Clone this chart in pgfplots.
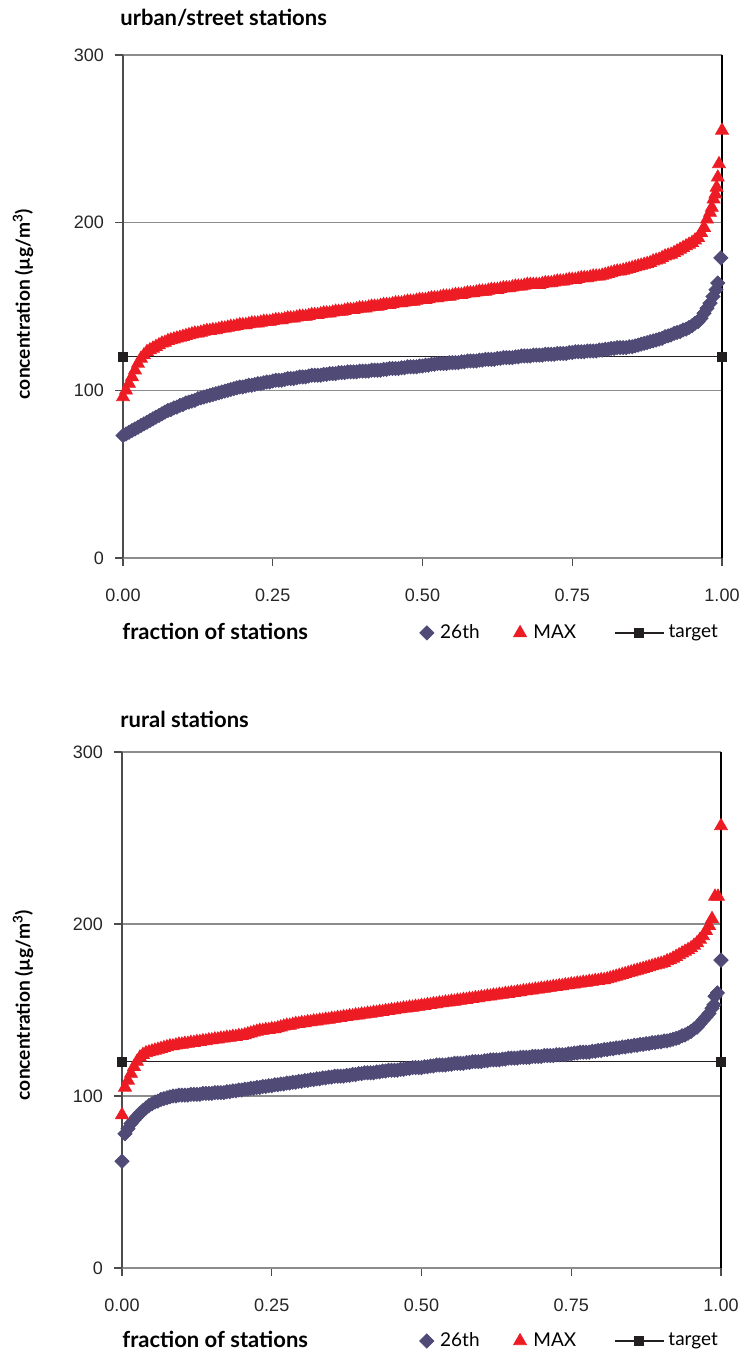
\documentclass[border=0pt]{standalone}
\usepackage{fontspec}
\setmainfont{Lato}
\newfontfamily\tickfont{Liberation Sans}
\usepackage{pgfplots}
\pgfplotsset{compat=1.18}
\definecolor{c26}{RGB}{79,74,118}
\definecolor{cmax}{RGB}{237,28,36}
\definecolor{ctar}{RGB}{35,31,32}
\definecolor{cgrid}{RGB}{140,140,140}
\pgfplotsset{
 panel/.style={
  scale only axis, width=299.5pt,
  xmin=0, xmax=1, ymin=0, ymax=300, clip=false,
  axis x line*=bottom, axis y line*=left,
  xtick={0,0.25,0.5,0.75,1}, xticklabels={0.00,0.25,0.50,0.75,1.00},
  ytick={0,100,200,300},
  tick align=outside, major tick length=4pt,
  ymajorgrids, major grid style={cgrid, line width=0.6pt},
  x axis line style={cgrid, line width=0.7pt},
  y axis line style={black!70, line width=0.6pt},
  tick style={black!70, line width=0.6pt},
  tick label style={font=\fontsize{9}{10}\tickfont, text=black!85},
  xticklabel style={yshift=-8pt},
  yticklabel style={xshift=-2pt},
  /pgf/number format/assume math mode=true,
  extra x ticks={1}, extra x tick labels={},
  extra x tick style={xmajorgrids=true, major grid style={black, line width=0.6pt}},
  legend columns=-1,
  legend style={draw=none, fill=none, anchor=west, inner sep=0pt,
    font=\fontsize{9.5}{11}\selectfont,
    /tikz/every even column/.append style={column sep=14.5pt}},
 },
 s26/.style={only marks, mark=square*, mark size=2.5pt, c26,
   mark options={rotate=45, draw=c26, fill=c26},
   legend image code/.code={\path (0pt,0pt) (8pt,0pt); \draw[##1] plot coordinates {(3.5pt,0pt)};}},
 smax/.style={only marks, mark=triangle*, mark size=3.7pt, cmax,
   mark options={draw=cmax, fill=cmax},
   legend image code/.code={\path (0pt,0pt) (8pt,0pt); \draw[##1] plot coordinates {(3.5pt,0pt)};}},
 star/.style={ctar, line width=0.6pt, mark=square*, mark size=2.2pt, mark options={fill=ctar},
   legend image code/.code={\path (-2.5pt,0pt) (24.5pt,0pt); \draw[##1, mark repeat=2, mark phase=2] plot coordinates {(0pt,0pt) (12.25pt,0pt) (24.5pt,0pt)};}},
}
\begin{document}
\begin{tikzpicture}
\useasboundingbox (0pt,0pt) rectangle (372.5pt,678pt);
% ---------------- top panel: urban/street ----------------
\begin{axis}[panel, at={(61.5pt,399pt)}, anchor=south west, height=251.5pt,
  legend style={at={(0.4942,-0.149)}}]
\addplot[star, forget plot] coordinates {(0,120) (1,120)};
\addplot[s26] table[row sep=\\] {
0.000 73\\ 0.005 74\\ 0.010 75\\ 0.015 76\\ 0.020 77\\ 0.025 78\\ 0.030 79\\ 0.035 80\\ 0.040 81\\ 0.045 82\\
0.050 83\\ 0.055 84\\ 0.060 85\\ 0.065 86\\ 0.070 87\\ 0.075 88\\ 0.080 88.5\\ 0.085 89.5\\ 0.090 90\\ 0.095 91\\
0.100 91.5\\ 0.105 92.5\\ 0.110 93\\ 0.115 93.5\\ 0.120 94\\ 0.125 95\\ 0.130 95.5\\ 0.135 96\\ 0.140 96.5\\ 0.145 97\\
0.150 97.5\\ 0.155 98\\ 0.160 98.5\\ 0.165 99\\ 0.170 99.5\\ 0.175 100\\ 0.180 100.5\\ 0.185 101\\ 0.190 101.5\\ 0.195 102\\
0.200 102\\ 0.205 102.5\\ 0.210 103\\ 0.215 103\\ 0.220 103.5\\ 0.225 104\\ 0.230 104\\ 0.235 104.5\\ 0.240 105\\ 0.245 105\\
0.250 105.5\\ 0.255 106\\ 0.260 106\\ 0.265 106\\ 0.270 106.5\\ 0.275 107\\ 0.280 107\\ 0.285 107\\ 0.290 107.5\\ 0.295 108\\
0.300 108\\ 0.305 108\\ 0.310 108.5\\ 0.315 109\\ 0.320 109\\ 0.325 109\\ 0.330 109\\ 0.335 109.5\\ 0.340 109.5\\ 0.345 110\\
0.350 110\\ 0.355 110\\ 0.360 110.5\\ 0.365 110.5\\ 0.370 110.5\\ 0.375 111\\ 0.380 111\\ 0.385 111\\ 0.390 111\\ 0.395 111.5\\
0.400 111.5\\ 0.405 111.5\\ 0.410 111.5\\ 0.415 112\\ 0.420 112\\ 0.425 112\\ 0.430 112\\ 0.435 112.5\\ 0.440 112.5\\ 0.445 113\\
0.450 113\\ 0.455 113\\ 0.460 113\\ 0.465 113.5\\ 0.470 113.5\\ 0.475 114\\ 0.480 114\\ 0.485 114\\ 0.490 114\\ 0.495 114.5\\
0.500 114.5\\ 0.505 115\\ 0.510 115\\ 0.515 115.5\\ 0.520 115.5\\ 0.525 116\\ 0.530 116\\ 0.535 116\\ 0.540 116\\ 0.545 116.5\\
0.550 116.5\\ 0.555 116.5\\ 0.560 116.5\\ 0.565 117\\ 0.570 117\\ 0.575 117.5\\ 0.580 117.5\\ 0.585 117.5\\ 0.590 117.5\\ 0.595 118\\
0.600 118\\ 0.605 118.5\\ 0.610 118.5\\ 0.615 118.5\\ 0.620 118.5\\ 0.625 119\\ 0.630 119\\ 0.635 119.5\\ 0.640 119.5\\ 0.645 119.5\\
0.650 119.5\\ 0.655 120\\ 0.660 120\\ 0.665 120.5\\ 0.670 120.5\\ 0.675 120.5\\ 0.680 120.5\\ 0.685 121\\ 0.690 121\\ 0.695 121\\
0.700 121\\ 0.705 121.5\\ 0.710 121.5\\ 0.715 121.5\\ 0.720 121.5\\ 0.725 122\\ 0.730 122\\ 0.735 122\\ 0.740 122\\ 0.745 122.5\\
0.750 122.5\\ 0.755 123\\ 0.760 123\\ 0.765 123\\ 0.770 123\\ 0.775 123.5\\ 0.780 123.5\\ 0.785 123.5\\ 0.790 123.5\\ 0.795 124\\
0.800 124\\ 0.805 124.5\\ 0.810 124.5\\ 0.815 125\\ 0.820 125\\ 0.825 125.5\\ 0.830 125.5\\ 0.835 125.5\\ 0.840 125.5\\ 0.845 126\\
0.850 126\\ 0.855 126.5\\ 0.860 127\\ 0.865 127.5\\ 0.870 128\\ 0.875 128.5\\ 0.880 129\\ 0.885 129.5\\ 0.890 130\\ 0.895 130.5\\
0.900 131\\ 0.905 132\\ 0.910 132.5\\ 0.915 133\\ 0.920 134\\ 0.925 134.5\\ 0.930 135\\ 0.935 136\\ 0.940 136.5\\ 0.945 137.5\\
0.950 138.5\\ 0.955 140\\ 0.960 141\\ 0.965 143\\ 0.970 146\\ 0.975 149\\ 0.980 152\\ 0.985 156\\ 0.990 160\\ 0.993 164\\
0.998 179\\
};
\addlegendentry{26th}
\addplot[smax] table[row sep=\\] {
0.000 96\\ 0.005 100\\ 0.010 104\\ 0.015 108\\ 0.020 112\\ 0.025 116\\ 0.030 119\\ 0.035 121\\ 0.040 123\\ 0.045 124\\
0.050 125\\ 0.055 126\\ 0.060 127\\ 0.065 128\\ 0.070 128.5\\ 0.075 129.5\\ 0.080 130\\ 0.085 130.5\\ 0.090 131\\ 0.095 131.5\\
0.100 132\\ 0.105 132.5\\ 0.110 133\\ 0.115 133.5\\ 0.120 134\\ 0.125 134\\ 0.130 134.5\\ 0.135 135\\ 0.140 135.5\\ 0.145 135.5\\
0.150 136\\ 0.155 136\\ 0.160 136.5\\ 0.165 137\\ 0.170 137\\ 0.175 137.5\\ 0.180 138\\ 0.185 138\\ 0.190 138.5\\ 0.195 139\\
0.200 139\\ 0.205 139\\ 0.210 139.5\\ 0.215 140\\ 0.220 140\\ 0.225 140\\ 0.230 140.5\\ 0.235 141\\ 0.240 141\\ 0.245 141\\
0.250 141.5\\ 0.255 142\\ 0.260 142\\ 0.265 142\\ 0.270 142.5\\ 0.275 143\\ 0.280 143\\ 0.285 143\\ 0.290 143.5\\ 0.295 144\\
0.300 144\\ 0.305 144\\ 0.310 144.5\\ 0.315 145\\ 0.320 145\\ 0.325 145\\ 0.330 145.5\\ 0.335 146\\ 0.340 146\\ 0.345 146\\
0.350 146.5\\ 0.355 147\\ 0.360 147\\ 0.365 147\\ 0.370 147.5\\ 0.375 148\\ 0.380 148\\ 0.385 148\\ 0.390 148.5\\ 0.395 149\\
0.400 149\\ 0.405 149\\ 0.410 149.5\\ 0.415 150\\ 0.420 150\\ 0.425 150\\ 0.430 150.5\\ 0.435 151\\ 0.440 151\\ 0.445 151\\
0.450 151.5\\ 0.455 152\\ 0.460 152\\ 0.465 152\\ 0.470 152.5\\ 0.475 153\\ 0.480 153\\ 0.485 153\\ 0.490 153.5\\ 0.495 154\\
0.500 154\\ 0.505 154\\ 0.510 154.5\\ 0.515 155\\ 0.520 155\\ 0.525 155\\ 0.530 155.5\\ 0.535 156\\ 0.540 156\\ 0.545 156\\
0.550 156.5\\ 0.555 157\\ 0.560 157\\ 0.565 157\\ 0.570 157.5\\ 0.575 158\\ 0.580 158\\ 0.585 158\\ 0.590 158.5\\ 0.595 159\\
0.600 159\\ 0.605 159\\ 0.610 159.5\\ 0.615 160\\ 0.620 160\\ 0.625 160\\ 0.630 160.5\\ 0.635 161\\ 0.640 161\\ 0.645 161\\
0.650 161.5\\ 0.655 162\\ 0.660 162\\ 0.665 162\\ 0.670 162.5\\ 0.675 163\\ 0.680 163\\ 0.685 163\\ 0.690 163\\ 0.695 163\\
0.700 163.5\\ 0.705 164\\ 0.710 164\\ 0.715 164\\ 0.720 164.5\\ 0.725 165\\ 0.730 165\\ 0.735 165\\ 0.740 165.5\\ 0.745 166\\
0.750 166\\ 0.755 166\\ 0.760 166.5\\ 0.765 167\\ 0.770 167\\ 0.775 167\\ 0.780 167.5\\ 0.785 168\\ 0.790 168\\ 0.795 168\\
0.800 168.5\\ 0.805 169\\ 0.810 169.5\\ 0.815 170\\ 0.820 170.5\\ 0.825 171\\ 0.830 171\\ 0.835 171.5\\ 0.840 172\\ 0.845 172.5\\
0.850 173\\ 0.855 173.5\\ 0.860 174\\ 0.865 174.5\\ 0.870 175\\ 0.875 175.5\\ 0.880 176\\ 0.885 177\\ 0.890 177.5\\ 0.895 178\\
0.900 179\\ 0.905 180\\ 0.910 180.5\\ 0.915 181\\ 0.920 182\\ 0.925 183\\ 0.930 184\\ 0.935 185\\ 0.940 186\\ 0.945 187\\
0.950 188\\ 0.955 189.5\\ 0.960 191\\ 0.965 194\\ 0.970 197\\ 0.975 202\\ 0.980 206\\ 0.983 209\\ 0.986 214\\ 0.989 217\\
0.991 221\\ 0.993 227\\ 0.995 235\\ 1.000 255\\
};
\addlegendentry{MAX}
\addlegendimage{star}
\addlegendentry{target}
\end{axis}
% ---------------- bottom panel: rural ----------------
\begin{axis}[panel, at={(61pt,44pt)}, anchor=south west, height=258pt,
  legend style={at={(0.4958,-0.1415)}}]
\addplot[star, forget plot] coordinates {(0,120) (1,120)};
\addplot[s26] table[row sep=\\] {
0.000 62\\ 0.005 78\\ 0.010 81\\ 0.015 84\\ 0.020 86\\ 0.025 88\\ 0.030 90\\ 0.035 91.5\\ 0.040 93\\ 0.045 94.5\\
0.050 95.5\\ 0.055 96.5\\ 0.060 97\\ 0.065 98\\ 0.070 98.5\\ 0.075 99\\ 0.080 99.5\\ 0.085 100\\ 0.090 100\\ 0.095 100.5\\
0.100 100.5\\ 0.105 100.5\\ 0.110 100.5\\ 0.115 101\\ 0.120 101\\ 0.125 101\\ 0.130 101\\ 0.135 101.5\\ 0.140 101.5\\ 0.145 101.5\\
0.150 101.5\\ 0.155 102\\ 0.160 102\\ 0.165 102\\ 0.170 102\\ 0.175 102.5\\ 0.180 102.5\\ 0.185 103\\ 0.190 103\\ 0.195 103.5\\
0.200 103.5\\ 0.205 104\\ 0.210 104\\ 0.215 104.5\\ 0.220 104.5\\ 0.225 105\\ 0.230 105\\ 0.235 105.5\\ 0.240 105.5\\ 0.245 106\\
0.250 106\\ 0.255 106.5\\ 0.260 106.5\\ 0.265 107\\ 0.270 107\\ 0.275 107.5\\ 0.280 107.5\\ 0.285 108\\ 0.290 108\\ 0.295 108.5\\
0.300 108.5\\ 0.305 109\\ 0.310 109\\ 0.315 109.5\\ 0.320 109.5\\ 0.325 110\\ 0.330 110\\ 0.335 110.5\\ 0.340 110.5\\ 0.345 111\\
0.350 111\\ 0.355 111.5\\ 0.360 111.5\\ 0.365 111.5\\ 0.370 111.5\\ 0.375 112\\ 0.380 112\\ 0.385 112.5\\ 0.390 112.5\\ 0.395 113\\
0.400 113\\ 0.405 113.5\\ 0.410 113.5\\ 0.415 113.5\\ 0.420 113.5\\ 0.425 114\\ 0.430 114\\ 0.435 114.5\\ 0.440 114.5\\ 0.445 115\\
0.450 115\\ 0.455 115\\ 0.460 115\\ 0.465 115.5\\ 0.470 115.5\\ 0.475 116\\ 0.480 116\\ 0.485 116.5\\ 0.490 116.5\\ 0.495 116.5\\
0.500 116.5\\ 0.505 117\\ 0.510 117\\ 0.515 117.5\\ 0.520 117.5\\ 0.525 118\\ 0.530 118\\ 0.535 118\\ 0.540 118\\ 0.545 118.5\\
0.550 118.5\\ 0.555 119\\ 0.560 119\\ 0.565 119\\ 0.570 119\\ 0.575 119.5\\ 0.580 119.5\\ 0.585 120\\ 0.590 120\\ 0.595 120\\
0.600 120\\ 0.605 120.5\\ 0.610 120.5\\ 0.615 121\\ 0.620 121\\ 0.625 121\\ 0.630 121\\ 0.635 121.5\\ 0.640 121.5\\ 0.645 122\\
0.650 122\\ 0.655 122\\ 0.660 122\\ 0.665 122.5\\ 0.670 122.5\\ 0.675 122.5\\ 0.680 122.5\\ 0.685 123\\ 0.690 123\\ 0.695 123\\
0.700 123\\ 0.705 123.5\\ 0.710 123.5\\ 0.715 123.5\\ 0.720 123.5\\ 0.725 124\\ 0.730 124\\ 0.735 124\\ 0.740 124\\ 0.745 124.5\\
0.750 124.5\\ 0.755 125\\ 0.760 125\\ 0.765 125.5\\ 0.770 125.5\\ 0.775 125.5\\ 0.780 125.5\\ 0.785 126\\ 0.790 126\\ 0.795 126.5\\
0.800 126.5\\ 0.805 127\\ 0.810 127\\ 0.815 127.5\\ 0.820 127.5\\ 0.825 128\\ 0.830 128\\ 0.835 128.5\\ 0.840 128.5\\ 0.845 129\\
0.850 129\\ 0.855 129.5\\ 0.860 129.5\\ 0.865 130\\ 0.870 130\\ 0.875 130.5\\ 0.880 130.5\\ 0.885 131\\ 0.890 131\\ 0.895 131.5\\
0.900 131.5\\ 0.905 132\\ 0.910 132\\ 0.915 132.5\\ 0.920 133\\ 0.925 133.5\\ 0.930 134\\ 0.935 135\\ 0.940 135.5\\ 0.945 136.5\\
0.950 137.5\\ 0.955 139\\ 0.960 140\\ 0.965 142\\ 0.970 144\\ 0.975 146\\ 0.980 148\\ 0.985 151\\ 0.988 153\\ 0.990 158\\
0.994 160\\ 1.000 179\\
};
\addlegendentry{26th}
\addplot[smax] table[row sep=\\] {
0.000 89\\ 0.005 105\\ 0.010 109\\ 0.015 113\\ 0.020 117\\ 0.025 120\\ 0.030 122.5\\ 0.035 124\\ 0.040 125\\ 0.045 125.5\\
0.050 126\\ 0.055 126.5\\ 0.060 127\\ 0.065 127.5\\ 0.070 128\\ 0.075 128.5\\ 0.080 129\\ 0.085 129\\ 0.090 129.5\\ 0.095 130\\
0.100 130\\ 0.105 130.5\\ 0.110 130.5\\ 0.115 131\\ 0.120 131\\ 0.125 131.5\\ 0.130 131.5\\ 0.135 132\\ 0.140 132\\ 0.145 132.5\\
0.150 132.5\\ 0.155 133\\ 0.160 133\\ 0.165 133.5\\ 0.170 133.5\\ 0.175 134\\ 0.180 134\\ 0.185 134.5\\ 0.190 134.5\\ 0.195 135\\
0.200 135\\ 0.205 135.5\\ 0.210 136\\ 0.215 136.5\\ 0.220 137\\ 0.225 137.5\\ 0.230 138\\ 0.235 138\\ 0.240 138.5\\ 0.245 138.5\\
0.250 139\\ 0.255 139\\ 0.260 139.5\\ 0.265 140\\ 0.270 140.5\\ 0.275 141\\ 0.280 141\\ 0.285 141.5\\ 0.290 142\\ 0.295 142\\
0.300 142.5\\ 0.305 142.5\\ 0.310 143\\ 0.315 143\\ 0.320 143.5\\ 0.325 143.5\\ 0.330 144\\ 0.335 144\\ 0.340 144.5\\ 0.345 144.5\\
0.350 145\\ 0.355 145\\ 0.360 145.5\\ 0.365 145.5\\ 0.370 146\\ 0.375 146\\ 0.380 146.5\\ 0.385 146.5\\ 0.390 147\\ 0.395 147\\
0.400 147.5\\ 0.405 147.5\\ 0.410 148\\ 0.415 148\\ 0.420 148.5\\ 0.425 148.5\\ 0.430 149\\ 0.435 149\\ 0.440 149.5\\ 0.445 149.5\\
0.450 150\\ 0.455 150\\ 0.460 150.5\\ 0.465 150.5\\ 0.470 151\\ 0.475 151\\ 0.480 151.5\\ 0.485 151.5\\ 0.490 152\\ 0.495 152\\
0.500 152.5\\ 0.505 152.5\\ 0.510 153\\ 0.515 153\\ 0.520 153.5\\ 0.525 153.5\\ 0.530 154\\ 0.535 154\\ 0.540 154.5\\ 0.545 154.5\\
0.550 155\\ 0.555 155\\ 0.560 155.5\\ 0.565 155.5\\ 0.570 156\\ 0.575 156\\ 0.580 156.5\\ 0.585 156.5\\ 0.590 157\\ 0.595 157\\
0.600 157.5\\ 0.605 157.5\\ 0.610 158\\ 0.615 158\\ 0.620 158.5\\ 0.625 158.5\\ 0.630 159\\ 0.635 159\\ 0.640 159.5\\ 0.645 159.5\\
0.650 160\\ 0.655 160\\ 0.660 160.5\\ 0.665 160.5\\ 0.670 161\\ 0.675 161\\ 0.680 161.5\\ 0.685 161.5\\ 0.690 162\\ 0.695 162\\
0.700 162.5\\ 0.705 162.5\\ 0.710 163\\ 0.715 163\\ 0.720 163.5\\ 0.725 163.5\\ 0.730 164\\ 0.735 164\\ 0.740 164.5\\ 0.745 164.5\\
0.750 165\\ 0.755 165\\ 0.760 165.5\\ 0.765 165.5\\ 0.770 166\\ 0.775 166\\ 0.780 166.5\\ 0.785 166.5\\ 0.790 167\\ 0.795 167\\
0.800 167.5\\ 0.805 167.5\\ 0.810 168\\ 0.815 168.5\\ 0.820 169\\ 0.825 169.5\\ 0.830 170\\ 0.835 170.5\\ 0.840 171\\ 0.845 171.5\\
0.850 172\\ 0.855 172.5\\ 0.860 173\\ 0.865 173.5\\ 0.870 174\\ 0.875 174.5\\ 0.880 175\\ 0.885 175.5\\ 0.890 176\\ 0.895 176.5\\
0.900 177\\ 0.905 177.5\\ 0.910 178.5\\ 0.915 179\\ 0.920 180\\ 0.925 181\\ 0.930 182\\ 0.935 183\\ 0.940 184\\ 0.945 185\\
0.950 186\\ 0.955 187.5\\ 0.960 189\\ 0.965 191\\ 0.970 193\\ 0.975 196\\ 0.980 199\\ 0.985 203\\ 0.990 216\\ 0.995 216\\
1.000 257\\
};
\addlegendentry{MAX}
\addlegendimage{star}
\addlegendentry{target}
\end{axis}
% ---------------- texts ----------------
\node[anchor=base west, font=\bfseries\fontsize{11}{13}\selectfont, inner sep=0pt] at (60pt,665pt) {urban/street stations};
\node[anchor=base west, font=\bfseries\fontsize{11}{13}\selectfont, inner sep=0pt] at (60pt,314pt) {rural stations};
\node[anchor=base west, font=\bfseries\fontsize{11}{13}\selectfont, inner sep=0pt] at (61pt,358pt) {fraction of stations};
\node[anchor=base west, font=\bfseries\fontsize{11}{13}\selectfont, inner sep=0pt] at (61pt,4.5pt) {fraction of stations};
\node[rotate=90, font=\bfseries\fontsize{9.6}{11}\selectfont, inner sep=0pt] at (11.5pt,526pt) {concentration (µg/m\textsuperscript{3})};
\node[rotate=90, font=\bfseries\fontsize{9.6}{11}\selectfont, inner sep=0pt] at (11.5pt,175.5pt) {concentration (µg/m\textsuperscript{3})};
\end{tikzpicture}
\end{document}
